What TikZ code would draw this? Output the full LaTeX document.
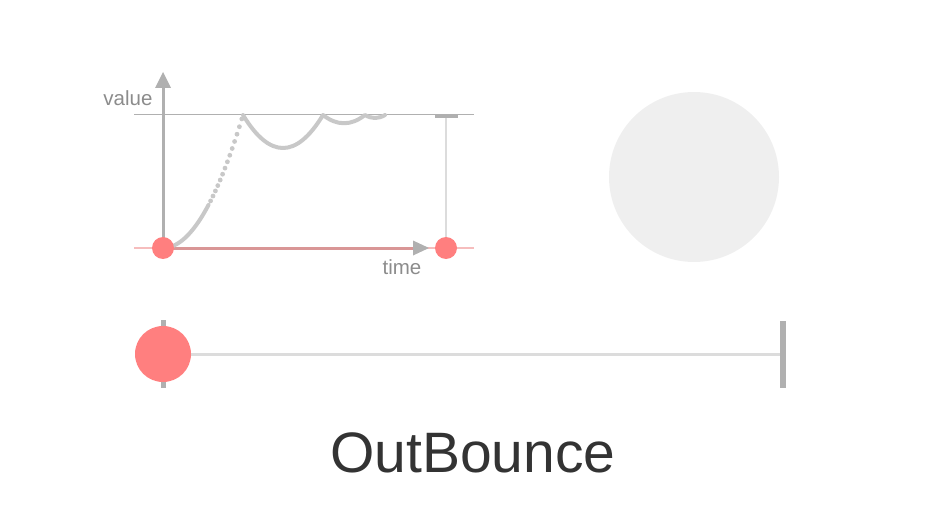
\documentclass[tikz,border=0pt]{standalone}
\usepackage{fontspec}
\setmainfont{Liberation Sans}
\usetikzlibrary{arrows.meta}
\definecolor{dotred}{HTML}{FF7F7F}
\definecolor{axisgray}{HTML}{B0B0B0}
\definecolor{curvegray}{HTML}{C8C8C8}
\definecolor{lightline}{HTML}{DCDCDC}
\definecolor{pinkline}{HTML}{F6BDBD}
\definecolor{redline}{HTML}{D99696}
\definecolor{labelgray}{HTML}{8C8C8C}
\definecolor{ballgray}{HTML}{EFEFEF}
\definecolor{titlegray}{HTML}{333333}
\tikzset{
  reddot/.style={circle,fill=dotred,inner sep=0pt,minimum size=22pt},
  axislabel/.style={text=labelgray,font=\fontsize{20.5}{20.5}\selectfont,inner sep=0pt},
  bouncecurve/.style={draw=curvegray,line width=4pt,line cap=round,line join=round},
}
\begin{document}
\begin{tikzpicture}[x=1pt,y=-1pt]
\useasboundingbox (0,0) rectangle (946,532);
% coordinates
\coordinate (o) at (163,248);
\coordinate (ytip) at (163,72);
\coordinate (xl) at (134,248);
\coordinate (xr) at (474,248);
\coordinate (vl) at (134,115);
\coordinate (vr) at (474,115);
\coordinate (etop) at (446,116);
% value line
\draw[axisgray,line width=1pt] (vl) -- (vr);
% pink baseline
\draw[pinkline,line width=2pt] (xl) -- (xr);
% red time line
\draw[redline,line width=3pt] (o) -- (418,248);
\fill[axisgray] (429,248) -- (413,240.5) -- (413,255.5) -- cycle;
% vertical axis
\draw[axisgray,line width=3pt] (o) -- (163,86);
\fill[axisgray] (ytip) -- (155,88) -- (171,88) -- cycle;
% end marker
\draw[lightline,line width=2pt] (446,248) -- (etop);
\draw[axisgray,line width=3.5pt] (435,116) -- (458,116);
% curve: solid part (parabola)
\draw[bouncecurve,domain=0:0.57,samples=40,smooth,variable=\u]
  plot ({163+80*\u},{248-133*\u*\u});
% dotted part
\foreach \u in {0.595,0.625,...,1.0}{
  \fill[curvegray] ({163+80*\u},{248-133*\u*\u}) circle (2.4pt);
}
% bounces
\draw[bouncecurve] (243,115) .. controls (269.7,159) and (296.3,159) .. (323,115)
  .. controls (337,126) and (351,126) .. (365,115)
  .. controls (371.7,119) and (378.3,119) .. (385,115);
% red dots
\node[reddot] (start) at (o) {};
\node[reddot] (end) at (446,248) {};
% labels
\node[axislabel] (value) at (128,98) {value};
\node[axislabel] (time) at (402,267) {time};
% ball
\node[circle,fill=ballgray,inner sep=0pt,minimum size=170pt] (ball) at (694,177) {};
% slider
\draw[lightline,line width=3pt] (190,354) -- (783,354);
\draw[axisgray,line width=5pt] (163,320) -- (163,388);
\node[circle,fill=dotred,inner sep=0pt,minimum size=56pt] (knob) at (163,354) {};
\draw[axisgray,line width=6pt] (783,321) -- (783,388);
% title
\node[text=titlegray,font=\fontsize{57}{57}\selectfont,inner sep=0pt] (title) at (473,453) {OutBounce};
\end{tikzpicture}
\end{document}
